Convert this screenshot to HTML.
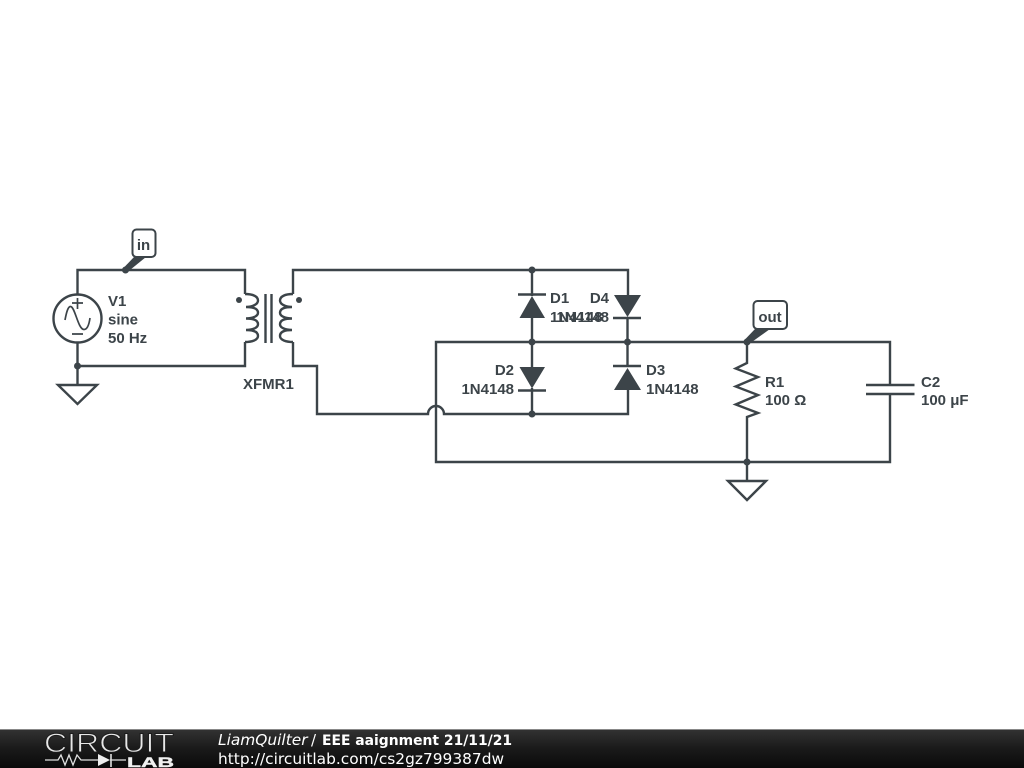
<!DOCTYPE html>
<html><head><meta charset="utf-8"><style>
html,body{margin:0;padding:0;background:#fff;width:1024px;height:768px;overflow:hidden}
svg{display:block}
</style></head><body>
<svg width="1024" height="768" viewBox="0 0 1024 768" xmlns="http://www.w3.org/2000/svg">
<defs><linearGradient id="g" x1="0" y1="0" x2="0" y2="1"><stop offset="0" stop-color="#333"/><stop offset="0.5" stop-color="#1a1a1a"/><stop offset="1" stop-color="#0a0a0a"/></linearGradient></defs>
<rect width="1024" height="768" fill="#fff"/>
<g fill="none" stroke="#3c4449" stroke-width="2.400">
<path d="M77.500 294V270H245V294"/>
<path d="M245 342V366H77.500M77.500 342V385"/>
<path d="M293 294V270H628V295M293 342V366H317V414H428A8 8 0 0 1 444 414H628V390"/>
<path d="M532 270V296M532 318V367M532 388V414M627.500 318V367"/>
<path d="M436 414V342H890V385M890 394V462H436V414"/>
<path d="M747 342V363L735.700 368.500 758 377 735.700 386.500 758 395 735.700 404.500 758 413 747 417V481"/>
<path d="M866 385H914.500M866 394H914.500"/>
<path d="M518 294.500H546M518 390.500H546M613 318H641M613 366H641"/>
<circle cx="77.500" cy="318.500" r="24" fill="#fff"/>
<path d="M245 294C253 294 258 296.500 258 300.500C258 304.500 252 307 246 307C253.500 307 258 309 258 312.800C258 316.500 252 318.500 246 318.500C253.500 318.500 258 320.500 258 324.300C258 328 252 330 246 330C253.500 330 258 332 258 336C258 340 252 342 245 342"/>
<path d="M293 294C285 294 280 296.500 280 300.500C280 304.500 286 307 292 307C284.500 307 280 309 280 312.800C280 316.500 286 318.500 292 318.500C284.500 318.500 280 320.500 280 324.300C280 328 286 330 292 330C284.500 330 280 332 280 336C280 340 286 342 293 342"/>
<path d="M265.500 294V343M271.500 294V343"/>
<path d="M58 385H97L77.500 404ZM728 481H766L747 500Z"/>
</g>
<g fill="none" stroke="#3c4449" stroke-width="1.700">
<path d="M65 320C66.500 312 68 306.500 70.500 306.500C75 306.500 78 329.500 84 329.500C87 329.500 89 325 90 318"/>
<path d="M72 303H83M77.500 298V309M72 334H83"/>
</g>
<g fill="#3c4449">
<path d="M532 296L519.500 318H545ZM532 388.500L519.500 367H545ZM627.500 317L614 295H641ZM627.500 368L614 390H641Z"/>
<circle cx="77.500" cy="366" r="3.500"/><circle cx="125.500" cy="270" r="3.500"/>
<circle cx="532" cy="270" r="3.500"/><circle cx="532" cy="342" r="3.500"/><circle cx="532" cy="414" r="3.500"/>
<circle cx="627.500" cy="342" r="3.500"/><circle cx="747" cy="342" r="3.500"/><circle cx="747" cy="462" r="3.500"/>
<circle cx="239" cy="300" r="3"/><circle cx="299" cy="300" r="3"/>
<path d="M123.500 268L134 257H146L127.500 272ZM744.500 340L755 329H770L749 344Z"/>
</g>
<g fill="#fff" stroke="#3c4449" stroke-width="2">
<rect x="132.500" y="229.500" width="23" height="27.500" rx="4"/>
<rect x="753.500" y="301" width="33.500" height="28" rx="4"/>
</g>
<g font-family="'Liberation Sans',sans-serif" font-weight="bold" font-size="15" fill="#3c4449">
<text x="143.500" y="250" text-anchor="middle">in</text>
<text x="770" y="322" text-anchor="middle">out</text>
<text x="108" y="306">V1</text><text x="108" y="324.500">sine</text><text x="108" y="343">50 Hz</text>
<text x="243" y="389">XFMR1</text>
<text x="550" y="303">D1</text><text x="550" y="322">1N4148</text>
<text x="609" y="303" text-anchor="end">D4</text><text x="609" y="322" text-anchor="end">1N4148</text>
<text x="514" y="375" text-anchor="end">D2</text><text x="514" y="394" text-anchor="end">1N4148</text>
<text x="646" y="375">D3</text><text x="646" y="394">1N4148</text>
<text x="765" y="387">R1</text><text x="765" y="405">100 Ω</text>
<text x="921" y="387">C2</text><text x="921" y="405">100 μF</text>
</g>
<rect y="729" width="1024" height="39" fill="url(#g)"/>
<rect y="729" width="1024" height="1" fill="#888"/>
<text x="44" y="752" font-family="'Liberation Sans',sans-serif" font-size="27" fill="#e8e8e8" stroke="#1c1c1c" stroke-width="0.900" textLength="130" lengthAdjust="spacingAndGlyphs">CIRCUIT</text>
<g fill="none" stroke="#e0e0e0" stroke-width="1.300"><path d="M45 760H58L61 755 65 765 69 755 73 765 77 755 81 760H98M110 760H126"/><path d="M111 754V767" stroke-width="1.600"/></g>
<path d="M98 754L110 760L98 766Z" fill="#eee"/>
<text x="127" y="767" font-family="'Liberation Sans',sans-serif" font-weight="bold" font-size="14" fill="#f0f0f0" stroke="#f0f0f0" stroke-width="0.400" textLength="47" lengthAdjust="spacingAndGlyphs">LAB</text>
<text y="745" font-family="'DejaVu Sans',sans-serif" fill="#fff"><tspan x="218" font-style="italic" font-size="15.400">LiamQuilter</tspan><tspan x="311" font-size="15">/</tspan><tspan x="322" font-weight="bold" font-size="13.900">EEE aaignment 21/11/21</tspan></text>
<text x="218" y="764" font-family="'DejaVu Sans',sans-serif" font-size="15.400" fill="#fff">http://circuitlab.com/cs2gz799387dw</text>
</svg>
</body></html>
